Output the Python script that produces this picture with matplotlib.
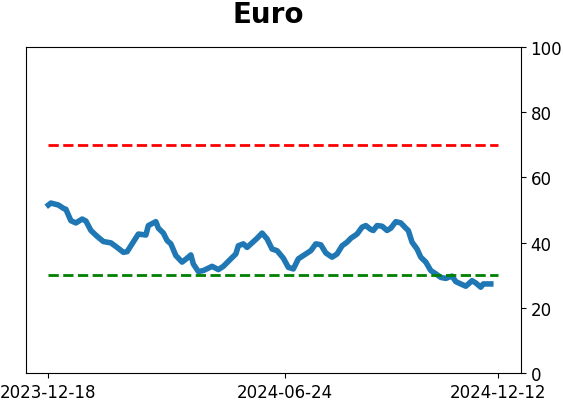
import matplotlib
matplotlib.use("Agg")
import matplotlib.pyplot as plt
import pandas as pd

# values
dates = [
    "2023-12-18", "2023-12-20", "2023-12-26", "2023-12-30", "2024-01-01",
    "2024-01-05", "2024-01-09", "2024-01-14", "2024-01-17", "2024-01-21",
    "2024-01-26", "2024-01-31", "2024-02-06", "2024-02-11", "2024-02-16",
    "2024-02-19", "2024-02-23", "2024-02-28", "2024-03-05", "2024-03-07",
    "2024-03-13", "2024-03-15", "2024-03-19", "2024-03-22", "2024-03-25",
    "2024-03-29", "2024-04-03", "2024-04-07", "2024-04-10", "2024-04-12",
    "2024-04-16", "2024-04-20", "2024-04-27", "2024-05-02", "2024-05-06",
    "2024-05-12", "2024-05-16", "2024-05-18", "2024-05-22", "2024-05-25",
    "2024-05-29", "2024-06-02", "2024-06-06", "2024-06-10", "2024-06-14",
    "2024-06-18", "2024-06-23", "2024-06-27", "2024-07-01", "2024-07-05",
    "2024-07-09", "2024-07-15", "2024-07-19", "2024-07-23", "2024-07-27",
    "2024-08-01", "2024-08-05", "2024-08-09", "2024-08-13", "2024-08-16",
    "2024-08-21", "2024-08-25", "2024-08-28", "2024-09-01", "2024-09-03",
    "2024-09-06", "2024-09-10", "2024-09-14", "2024-09-17", "2024-09-21",
    "2024-09-25", "2024-09-29", "2024-10-01", "2024-10-04", "2024-10-08",
    "2024-10-11", "2024-10-15", "2024-10-19", "2024-10-23", "2024-10-27",
    "2024-10-31", "2024-11-05", "2024-11-08", "2024-11-12", "2024-11-16",
    "2024-11-21", "2024-11-24", "2024-11-28", "2024-11-30", "2024-12-06",
]
values = [
    51.5, 52.1, 51.5, 50.5, 50.2,
    46.7, 46.0, 47.2, 46.6, 43.7,
    41.9, 40.3, 39.9, 38.5, 37.0,
    37.2, 39.6, 42.6, 42.3, 45.2,
    46.4, 44.4, 42.9, 40.6, 39.6,
    36.0, 34.0, 35.2, 36.2, 33.4,
    31.1, 31.4, 32.7, 31.7, 32.7,
    35.0, 36.5, 39.0, 39.6, 38.5,
    39.9, 41.3, 42.9, 41.1, 38.0,
    37.5, 35.2, 32.4, 31.9, 35.0,
    36.0, 37.5, 39.6, 39.3, 36.8,
    35.5, 36.5, 39.0, 40.1, 41.3,
    42.6, 44.7, 45.2, 44.0, 43.7,
    45.2, 45.0, 43.7, 44.4, 46.4,
    46.0, 44.4, 43.7, 40.1, 38.0,
    35.5, 34.0, 31.4, 30.4, 29.3,
    29.0, 29.7, 28.0, 27.3, 26.6,
    28.3, 27.6, 26.3, 27.3, 27.3,
]
range_start = "2023-12-18"
range_end = "2024-12-12"
tick_dates = ["2023-12-18", "2024-06-24", "2024-12-12"]
upper_level = 70
lower_level = 30

x = pd.to_datetime(dates)
span = pd.to_datetime([range_start, range_end])
ticks = pd.to_datetime(tick_dates)

fig = plt.figure(figsize=(5.63, 4.02), dpi=100)
ax = fig.add_axes([0.046, 0.0697, 0.879, 0.8113])

ax.plot(x, values, color="#1f77b4", linewidth=4)
ax.plot(span, [upper_level, upper_level], color="red", linestyle="--", linewidth=2)
ax.plot(span, [lower_level, lower_level], color="green", linestyle="--", linewidth=2)

ax.set_ylim(0, 100)
ax.yaxis.tick_right()
ax.set_yticks([0, 20, 40, 60, 80, 100])
ax.set_xticks(ticks)
ax.set_xticklabels(tick_dates)
ax.tick_params(labelsize=12)
ax.set_title("Euro", fontsize=20, fontweight="bold", pad=18, x=0.489)

fig.savefig("out.png", dpi=100)
